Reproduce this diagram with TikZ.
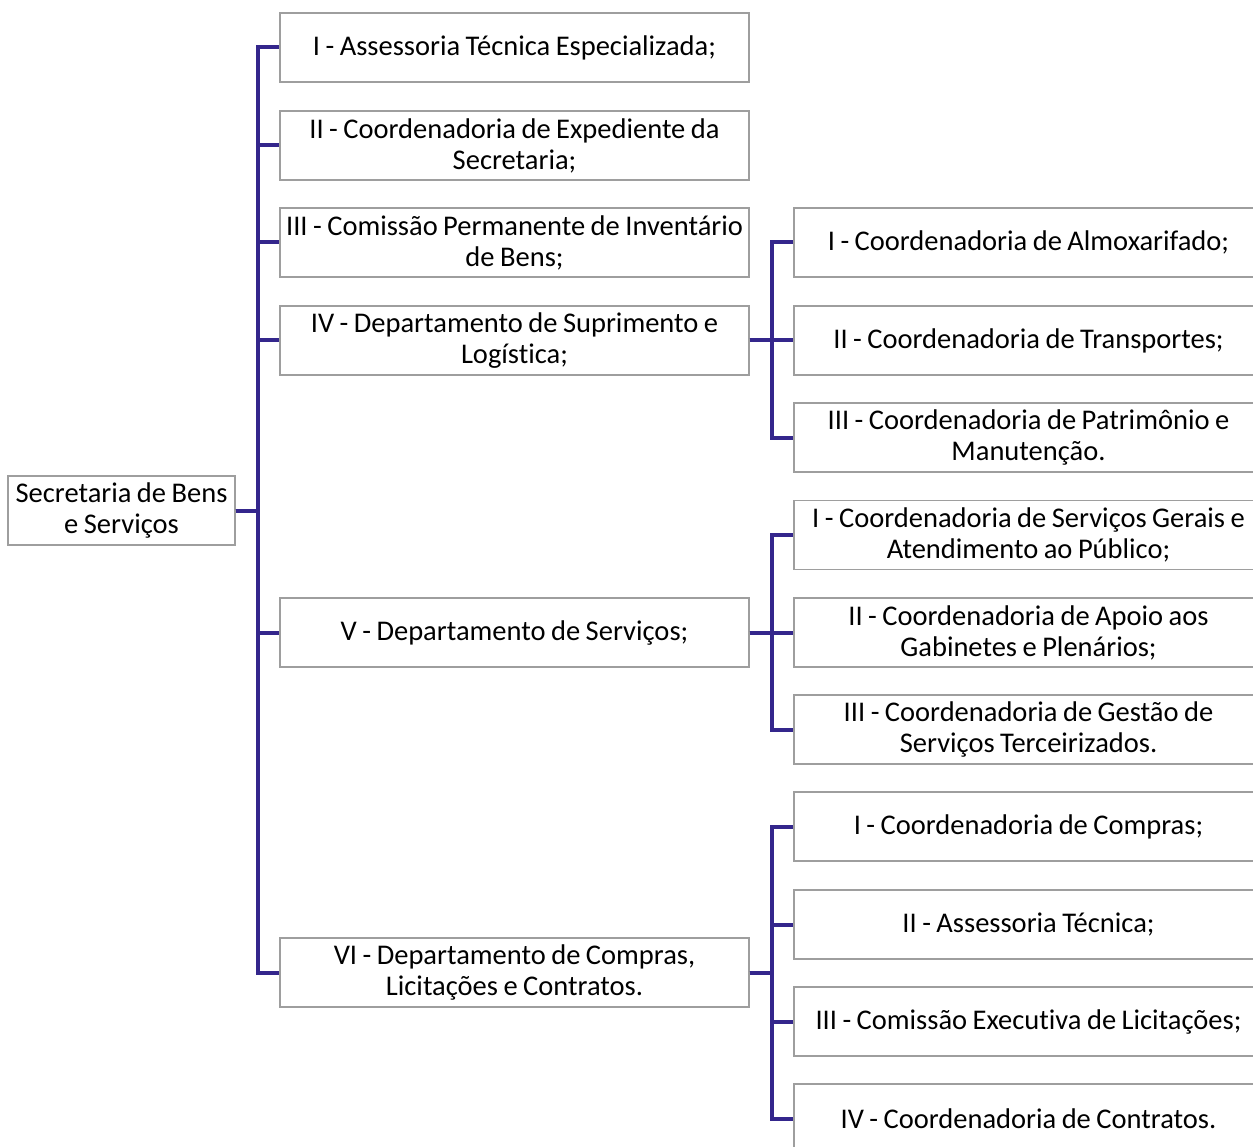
\documentclass[tikz,border=0pt]{standalone}
\usepackage{fontspec}
\setmainfont{Carlito}[Ligatures=NoCommon, WordSpace=0.85]
\begin{document}
\begin{tikzpicture}[x=1pt,y=-1pt,
  box/.style={draw=black!38, line width=1.3pt, fill=white, align=flush center,
    minimum height=69pt, inner sep=2pt,
    font=\fontsize{28.5}{31}\selectfont},
  unit/.style={box, minimum width=469pt, text width=462pt},
  conn/.style={draw={rgb,255:red,52;green,38;blue,140}, line width=4pt, line join=miter}]
\useasboundingbox (0,0) rectangle (1253,1147);
\clip (0,0) rectangle (1253,1147);

% root
\node[box, minimum width=227pt] (root) at (121.5,510.5) {Secretaria de Bens\\e Serviços};

% first level
\node[unit] (a1) at (514.5,47.5)  {I - Assessoria Técnica Especializada;};
\node[unit] (a2) at (514.5,145.5) {II - Coordenadoria de Expediente da\\Secretaria;};
\node[unit] (a3) at (514.5,242.5) {III - Comissão Permanente de Inventário\\de Bens;};
\node[unit] (a4) at (514.5,340.5) {IV - Departamento de Suprimento e\\Logística;};
\node[unit] (a5) at (514.5,632.5) {V - Departamento de Serviços;};
\node[unit] (a6) at (514.5,972.5) {VI - Departamento de Compras,\\Licitações e Contratos.};

% second level under IV
\node[unit] (b1) at (1028.5,242.5) {I - Coordenadoria de Almoxarifado;};
\node[unit] (b2) at (1028.5,340.5) {II - Coordenadoria de Transportes;};
\node[unit] (b3) at (1028.5,437.5) {III - Coordenadoria de Patrimônio e\\Manutenção.};

% second level under V
\node[unit] (c1) at (1028.5,535) {I - Coordenadoria de Serviços Gerais e\\Atendimento ao Público;};
\node[unit] (c2) at (1028.5,632.5) {II - Coordenadoria de Apoio aos\\Gabinetes e Plenários;};
\node[unit] (c3) at (1028.5,729.5) {III - Coordenadoria de Gestão de\\Serviços Terceirizados.};

% second level under VI
\node[unit] (d1) at (1028.5,826.5)  {I - Coordenadoria de Compras;};
\node[unit] (d2) at (1028.5,924.5)  {II - Assessoria Técnica;};
\node[unit] (d3) at (1028.5,1021.5) {III - Comissão Executiva de Licitações;};
\node[unit] (d4) at (1028.5,1118.5) {IV - Coordenadoria de Contratos.};

% connectors
\foreach \t in {a1,a2,a3,a4,a5,a6}
  \draw[conn] (root.east) -- ++(22,0) |- (\t.west);
\foreach \t in {b1,b2,b3}
  \draw[conn] (a4.east) -- ++(22,0) |- (\t.west);
\foreach \t in {c1,c2,c3}
  \draw[conn] (a5.east) -- ++(22,0) |- (\t.west);
\foreach \t in {d1,d2,d3,d4}
  \draw[conn] (a6.east) -- ++(22,0) |- (\t.west);
\end{tikzpicture}
\end{document}
